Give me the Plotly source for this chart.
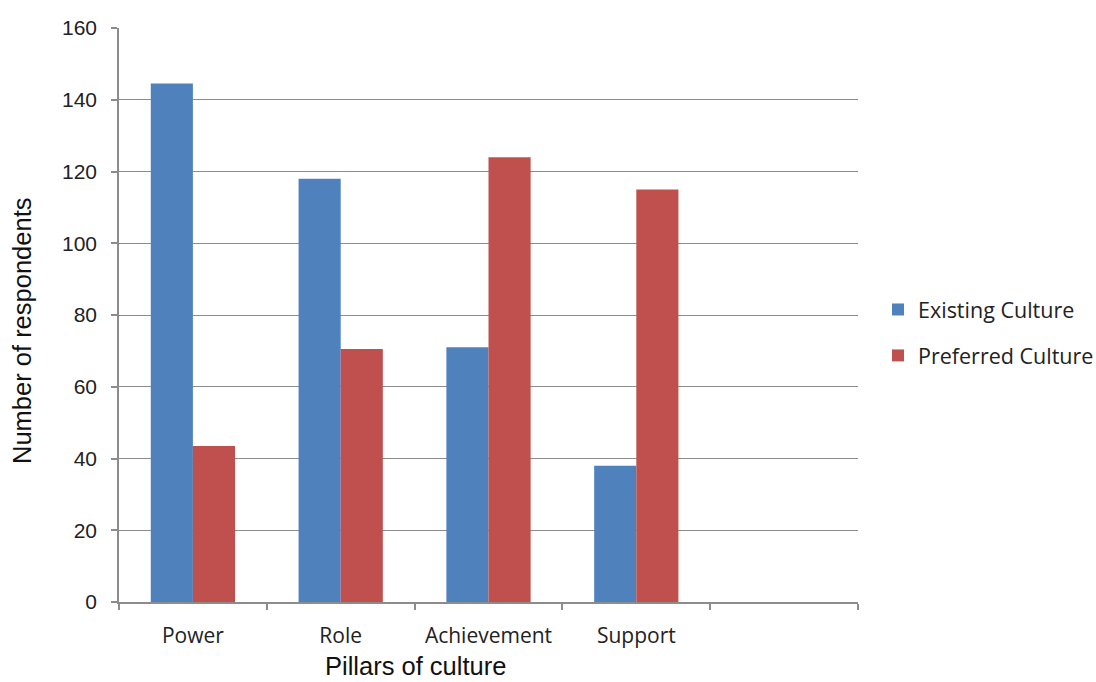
import plotly.graph_objects as go

categories = ["Power", "Role", "Achievement", "Support"]
existing = [144.5, 118, 71, 38]
preferred = [43.5, 70.5, 124, 115]
n_slots = 5  # the reference axis has one empty trailing category

xs = list(range(len(categories)))

fig = go.Figure()
fig.add_trace(go.Bar(x=xs, y=existing, name="Existing Culture", marker_color="#4F81BD",
                     marker_line_width=0, legendgroup="a"))
fig.add_trace(go.Bar(x=xs, y=preferred, name="Preferred Culture", marker_color="#C0504D",
                     marker_line_width=0, legendgroup="b"))

grid = "#8C8C8C"
fig.update_layout(
    width=1096, height=682,
    margin=dict(l=119, r=238, t=28, b=80, autoexpand=False),
    paper_bgcolor="white", plot_bgcolor="white",
    barmode="group", bargap=0.43, bargroupgap=0,
    showlegend=True,
    legend=dict(xref="container", yref="container", x=878/1096, y=1 - 289/682,
                xanchor="left", yanchor="top", tracegroupgap=15,
                font=dict(family="Open Sans", size=21.5, color="#222222"),
                bgcolor="rgba(0,0,0,0)"),
    font=dict(family="Liberation Sans", color="#222222"),
    annotations=[
        dict(text="Pillars of culture", xref="paper", yref="paper",
             x=(415 - 119) / (858 - 119), y=-(666 - 602) / (602 - 28),
             xanchor="center", yanchor="middle", showarrow=False,
             font=dict(family="Liberation Sans", size=25.5, color="#111111")),
        dict(text="Number of respondents", xref="paper", yref="paper",
             x=-(119 - 22) / (858 - 119), y=(602 - 331) / (602 - 28),
             xanchor="center", yanchor="middle", showarrow=False, textangle=-90,
             font=dict(family="Liberation Sans", size=25.5, color="#111111")),
    ],
)
fig.update_xaxes(
    range=[-0.5, n_slots - 0.5], automargin=False,
    tickmode="array", tickvals=xs, ticktext=categories,
    ticks="", showgrid=False, showline=True, linecolor=grid, linewidth=1.5,
    tickfont=dict(family="Open Sans", size=21, color="#222222"),
    ticklabelstandoff=14,
    minor=dict(tickmode="array", tickvals=[i - 0.5 for i in range(n_slots + 1)],
               ticks="outside", ticklen=6, tickcolor=grid, tickwidth=1.5, showgrid=False),
    zeroline=False,
)
fig.update_yaxes(
    range=[0, 160], dtick=20, tick0=0, automargin=False,
    showgrid=True, gridcolor=grid, gridwidth=1.2,
    showline=True, linecolor=grid, linewidth=1.5,
    ticks="outside", ticklen=6, tickcolor=grid, tickwidth=1.5,
    tickfont=dict(family="Liberation Sans", size=21, color="#222222"),
    ticklabelstandoff=10,
    zeroline=False,
)

fig.write_html("out.html")
